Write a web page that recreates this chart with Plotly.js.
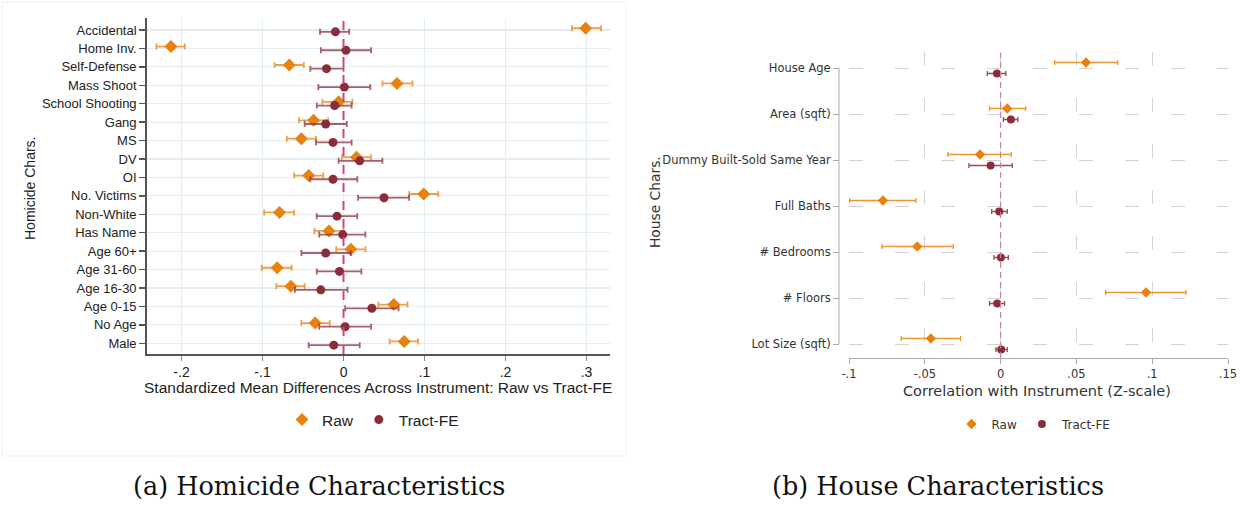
<!DOCTYPE html>
<html>
<head>
<meta charset="utf-8">
<script src="https://cdn.plot.ly/plotly-3.0.1.min.js"></script>
<style>html,body{margin:0;padding:0;background:#fff;}#chart{width:1245px;height:506px;}</style>
</head>
<body>
<div id="chart"></div>
<script>
// ---------- Panel (a): Homicide characteristics ----------
var homCats = ['Accidental','Home Inv.','Self-Defense','Mass Shoot','School Shooting','Gang','MS','DV','OI','No. Victims','Non-White','Has Name','Age 60+','Age 31-60','Age 16-30','Age 0-15','No Age','Male'];
var homRaw   = [0.299,-0.213,-0.067,0.066,-0.006,-0.037,-0.052,0.016,-0.043,0.099,-0.079,-0.018,0.009,-0.082,-0.065,0.062,-0.035,0.075];
var homRawLo = [0.282,-0.231,-0.085,0.048,-0.026,-0.055,-0.070,-0.002,-0.061,0.081,-0.098,-0.036,-0.009,-0.101,-0.083,0.043,-0.052,0.057];
var homRawHi = [0.318,-0.196,-0.049,0.085,0.011,-0.019,-0.034,0.034,-0.025,0.117,-0.061,0.000,0.027,-0.064,-0.048,0.079,-0.017,0.092];
var homFE    = [-0.010,0.003,-0.021,0.001,-0.011,-0.022,-0.013,0.020,-0.013,0.050,-0.008,-0.001,-0.022,-0.005,-0.028,0.035,0.002,-0.012];
var homFELo  = [-0.029,-0.028,-0.041,-0.031,-0.033,-0.048,-0.034,-0.006,-0.041,0.018,-0.033,-0.030,-0.052,-0.033,-0.060,0.002,-0.030,-0.043];
var homFEHi  = [0.007,0.034,0.000,0.033,0.010,0.004,0.010,0.048,0.017,0.081,0.017,0.027,0.009,0.022,0.005,0.068,0.034,0.020];
var homXTicks = [-0.2,-0.1,0,0.1,0.2,0.3];
var homXTickText = ['-.2','-.1','0','.1','.2','.3'];

// ---------- Panel (b): House characteristics ----------
var houseCats = ['House Age','Area (sqft)','Dummy Built-Sold Same Year','Full Baths','# Bedrooms','# Floors','Lot Size (sqft)'];
var houseRaw   = [0.0563,0.0044,-0.0136,-0.0776,-0.0550,0.0959,-0.0460];
var houseRawLo = [0.0356,-0.0073,-0.0348,-0.0996,-0.0783,0.0693,-0.0655];
var houseRawHi = [0.0772,0.0165,0.0070,-0.0559,-0.0312,0.1223,-0.0264];
var houseFE    = [-0.0024,0.0068,-0.0066,-0.0009,0.0002,-0.0022,0.0004];
var houseFELo  = [-0.0088,0.0018,-0.0209,-0.0059,-0.0044,-0.0073,-0.0031];
var houseFEHi  = [0.0035,0.0114,0.0077,0.0044,0.0051,0.0026,0.0044];
var houseXTicks = [-0.1,-0.05,0,0.05,0.1,0.15];
var houseXTickText = ['-.1','-.05','0','.05','.1','.15'];

var seriesNames = ['Raw','Tract-FE'];

var W = 1245, H = 506;
function px(x){return x/W;}
function py(y){return (H-y)/H;}
function idx(arr, off){return arr.map(function(_,i){return i+off;});}
function plus(v,hi){return v.map(function(x,i){return hi[i]-x;});}
function minus(v,lo){return v.map(function(x,i){return x-lo[i];});}

var ORANGE = '#e8820c', MAROON = '#8b2c3a';
var ARIAL = 'Liberation Sans, Arial, sans-serif';
var DJ = 'DejaVu Sans, sans-serif';

var traces = [
  {x: homRaw, y: idx(homCats,-0.1), type:'scatter', mode:'markers', name: seriesNames[0],
   xaxis:'x', yaxis:'y', legend:'legend', cliponaxis:false,
   marker:{symbol:'diamond', size:10, color:ORANGE},
   error_x:{type:'data', symmetric:false, array:plus(homRaw,homRawHi), arrayminus:minus(homRaw,homRawLo),
            color:'rgba(232,130,12,0.75)', thickness:1.8, width:3}},
  {x: homFE, y: idx(homCats,0.1), type:'scatter', mode:'markers', name: seriesNames[1],
   xaxis:'x', yaxis:'y', legend:'legend', cliponaxis:false,
   marker:{symbol:'circle', size:9, color:MAROON},
   error_x:{type:'data', symmetric:false, array:plus(homFE,homFEHi), arrayminus:minus(homFE,homFELo),
            color:'rgba(139,44,58,0.75)', thickness:1.8, width:3}},
  {x: houseRaw, y: idx(houseCats,-0.12), type:'scatter', mode:'markers', name: seriesNames[0],
   xaxis:'x2', yaxis:'y2', legend:'legend2', cliponaxis:false,
   marker:{symbol:'diamond', size:8, color:ORANGE},
   error_x:{type:'data', symmetric:false, array:plus(houseRaw,houseRawHi), arrayminus:minus(houseRaw,houseRawLo),
            color:'rgba(232,130,12,0.85)', thickness:1.3, width:2.5}},
  {x: houseFE, y: idx(houseCats,0.12), type:'scatter', mode:'markers', name: seriesNames[1],
   xaxis:'x2', yaxis:'y2', legend:'legend2', cliponaxis:false,
   marker:{symbol:'circle', size:8, color:MAROON},
   error_x:{type:'data', symmetric:false, array:plus(houseFE,houseFEHi), arrayminus:minus(houseFE,houseFELo),
            color:'rgba(139,44,58,0.85)', thickness:1.3, width:2.5}}
];

// right panel: categories at 68px (first) .. 344px (last), 46px per category
var Y2PAD = 0.35;
var y2Top = 68 - Y2PAD*46, y2Bot = 344 + Y2PAD*46;

function ann(text, x, y, font, angle){
  return {text:text, xref:'paper', yref:'paper', x:px(x), y:py(y), xanchor:'center', yanchor:'middle',
          textangle:angle||0, showarrow:false, font:font};
}

var layout = {
  width: W, height: H,
  margin:{l:0,r:0,t:0,b:0},
  paper_bgcolor:'#fff', plot_bgcolor:'#fff',
  showlegend:true,
  font:{family:ARIAL, color:'#222'},
  xaxis:{domain:[px(146.7), px(610)], range:[-0.243,0.329], anchor:'y',
         tickvals:homXTicks, ticktext:homXTickText, ticks:'outside', ticklen:5, tickwidth:1.5, tickcolor:'#888',
         showline:true, linecolor:'#555', linewidth:1.5, showgrid:true, gridcolor:'#e3eef0', gridwidth:1.2,
         zeroline:false, tickfont:{family:ARIAL, size:14, color:'#222'}},
  yaxis:{domain:[py(354), py(18)], range:[17.58,-0.65], anchor:'x',
         tickvals:idx(homCats,0), ticktext:homCats, ticks:'outside', ticklen:6, tickwidth:1.5, tickcolor:'#555',
         showline:true, linecolor:'#555', linewidth:1.5, showgrid:true, gridcolor:'#e3eef0', gridwidth:1.2,
         zeroline:false, tickfont:{family:ARIAL, size:13, color:'#222'}},
  xaxis2:{domain:[px(849), px(1228)], range:[-0.1,0.15], anchor:'free', position:py(358),
          tickvals:houseXTicks, ticktext:houseXTickText, ticks:'outside', ticklen:5, tickwidth:1, tickcolor:'#aaa',
          showline:true, linecolor:'#aaa', linewidth:1, showgrid:true, gridcolor:'#d4d4d4', gridwidth:1,
          griddash:'14px,32px', zeroline:false, tickfont:{family:DJ, size:11.5, color:'#333'}},
  yaxis2:{domain:[py(y2Bot), py(y2Top)], range:[6+Y2PAD,-Y2PAD], anchor:'free', position:px(839),
          tickvals:idx(houseCats,0), ticktext:houseCats, ticks:'outside', ticklen:6, tickwidth:1, tickcolor:'#aaa',
          showline:false, showgrid:true, gridcolor:'#d4d4d4', gridwidth:1,
          griddash:'14px,32px', zeroline:false, tickfont:{family:DJ, size:11.5, color:'#333'}},
  legend:{orientation:'h', x:px(373), xanchor:'center', y:py(420), yanchor:'middle',
          font:{family:ARIAL, size:15.5, color:'#222'}, bgcolor:'rgba(0,0,0,0)'},
  legend2:{orientation:'h', x:px(1034), xanchor:'center', y:py(424), yanchor:'middle',
          font:{family:DJ, size:12, color:'#333'}, bgcolor:'rgba(0,0,0,0)'},
  shapes:[
    {type:'rect', xref:'paper', yref:'paper', x0:px(2), x1:px(626), y0:py(456), y1:py(2),
     line:{color:'#f0f0f0', width:1}, layer:'below'},
    {type:'line', xref:'x', yref:'y domain', x0:0, x1:0, y0:0, y1:1,
     line:{color:'#d4437a', width:2, dash:'dash'}, layer:'above'},
    {type:'line', xref:'x2', yref:'paper', x0:0, x1:0, y0:py(358), y1:py(53),
     line:{color:'#c9849f', width:1.2, dash:'6px,4px'}, layer:'above'},
    {type:'line', xref:'paper', yref:'paper', x0:px(839), x1:px(839), y0:py(344.5), y1:py(67.5),
     line:{color:'#aaa', width:1}, layer:'above'}
  ],
  annotations:[
    ann('Homicide Chars.', 30, 189, {family:ARIAL, size:14, color:'#222'}, -90),
    ann('Standardized Mean Differences Across Instrument: Raw vs Tract-FE', 378, 387, {family:ARIAL, size:15.5, color:'#222'}),
    ann('House Chars.', 655, 202, {family:DJ, size:13.8, color:'#333'}, -90),
    ann('Correlation with Instrument (Z-scale)', 1037, 391, {family:DJ, size:14.5, color:'#333'}),
    ann('(a) Homicide Characteristics', 319, 486, {family:'DejaVu Serif, serif', size:25.5, color:'#111'}),
    ann('(b) House Characteristics', 938, 486, {family:'DejaVu Serif, serif', size:25.5, color:'#111'})
  ]
};

Plotly.newPlot('chart', traces, layout, {displayModeBar:false, staticPlot:true});
</script>
</body>
</html>
